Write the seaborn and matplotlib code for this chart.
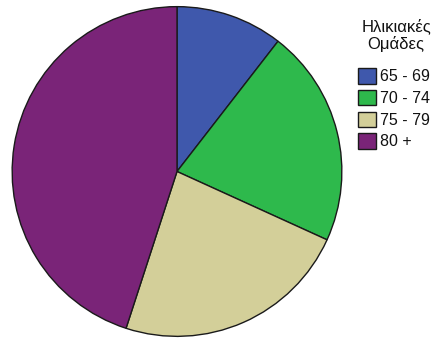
import matplotlib
matplotlib.use("Agg")
import matplotlib.pyplot as plt
import seaborn as sns

# Share of each age group (%)
groups = ["65 - 69", "70 - 74", "75 - 79", "80 +"]
shares = [10.5, 21.3, 23.2, 45.0]
colors = ["#3F58AC", "#2EB94C", "#D3CF99", "#7A2478"]
legend_title = "Ηλικιακές\nΟμάδες"

sns.set_theme(style="white")
plt.rcParams["font.family"] = ["Liberation Sans", "DejaVu Sans"]
plt.rcParams["text.color"] = "#111111"

W, H = 440, 340
fig = plt.figure(figsize=(W / 100, H / 100), dpi=100)
cx, cy, r = 177, 171.5, 166.5
ax = fig.add_axes([(cx - r) / W, (H - cy - r) / H, 2 * r / W, 2 * r / H])

wedges, _ = ax.pie(
    shares,
    colors=colors,
    startangle=90,
    counterclock=False,
    radius=1,
    wedgeprops=dict(edgecolor="#1a1a1a", linewidth=1.0),
)
ax.set_xlim(-1.01, 1.01)
ax.set_ylim(-1.01, 1.01)
ax.set_aspect("equal")
ax.axis("off")

# Legend title, centred above the entries
fig.text(396 / W, 1 - 18 / H, legend_title, ha="center", va="top",
         fontsize=12, linespacing=1.15, multialignment="center")

leg = fig.legend(
    wedges,
    groups,
    loc="upper left",
    bbox_to_anchor=(355 / W, 1 - 65 / H),
    frameon=False,
    fontsize=11.5,
    handlelength=1.1,
    handleheight=1.1,
    handletextpad=0.25,
    labelspacing=0.35,
    borderaxespad=0.0,
    borderpad=0.2,
)
for h in leg.legend_handles:
    h.set_edgecolor("#1a1a1a")
    h.set_linewidth(1.0)
for t in leg.get_texts():
    t.set_color("#111111")

fig.savefig("out.png", dpi=100)
